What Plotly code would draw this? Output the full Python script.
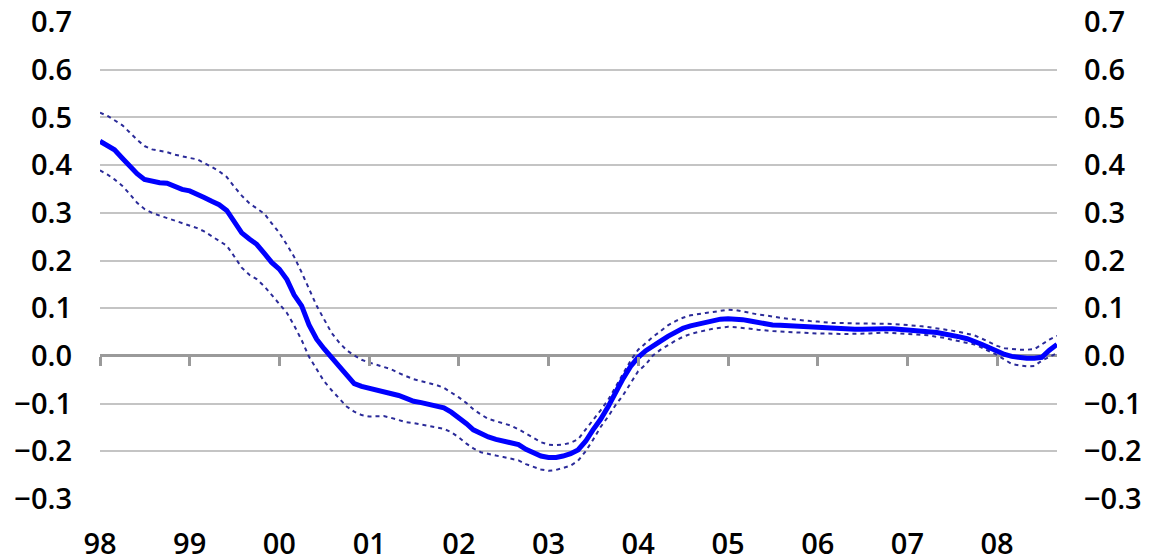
import pandas as pd
import plotly.graph_objects as go

start_month = "1998-01-01"
n_months = 129

center = [0.450, 0.442, 0.432, 0.415, 0.397, 0.382, 0.370, 0.366, 0.363, 0.362, 0.355, 0.349,
          0.346, 0.340, 0.332, 0.324, 0.317, 0.305, 0.280, 0.258, 0.245, 0.234, 0.215, 0.196,
          0.182, 0.160, 0.128, 0.105, 0.065, 0.035, 0.015, -0.005, -0.022, -0.040, -0.058, -0.064,
          -0.068, -0.070, -0.073, -0.078, -0.083, -0.089, -0.095, -0.098, -0.101, -0.104, -0.109, -0.118,
          -0.129, -0.142, -0.155, -0.164, -0.170, -0.175, -0.178, -0.182, -0.186, -0.196, -0.204, -0.210,
          -0.213, -0.213, -0.210, -0.205, -0.197, -0.179, -0.155, -0.133, -0.106, -0.076, -0.047, -0.022,
          -0.003, 0.011, 0.022, 0.031, 0.041, 0.050, 0.058, 0.063, 0.067, 0.071, 0.074, 0.077,
          0.078, 0.078, 0.076, 0.073, 0.070, 0.067, 0.065, 0.064, 0.063, 0.062, 0.061, 0.060,
          0.059, 0.058, 0.057, 0.057, 0.056, 0.056, 0.056, 0.057, 0.057, 0.057, 0.057, 0.056,
          0.055, 0.054, 0.053, 0.051, 0.049, 0.046, 0.044, 0.040, 0.036, 0.031, 0.024, 0.017,
          0.009, 0.003, -0.001, -0.004, -0.005, -0.005, -0.003, 0.012, 0.024]

upper = [0.510, 0.503, 0.494, 0.484, 0.469, 0.453, 0.440, 0.433, 0.430, 0.427, 0.422, 0.418,
         0.415, 0.412, 0.405, 0.396, 0.387, 0.375, 0.355, 0.336, 0.320, 0.310, 0.298, 0.278,
         0.258, 0.233, 0.208, 0.175, 0.142, 0.105, 0.077, 0.048, 0.028, 0.012, 0.001, -0.008,
         -0.014, -0.019, -0.023, -0.028, -0.036, -0.043, -0.049, -0.053, -0.057, -0.061, -0.067, -0.076,
         -0.087, -0.099, -0.112, -0.123, -0.132, -0.137, -0.141, -0.146, -0.154, -0.163, -0.172, -0.181,
         -0.186, -0.187, -0.186, -0.182, -0.175, -0.155, -0.134, -0.114, -0.092, -0.065, -0.038, -0.010,
         0.013, 0.028, 0.040, 0.052, 0.064, 0.073, 0.080, 0.085, 0.088, 0.090, 0.092, 0.095,
         0.097, 0.096, 0.093, 0.090, 0.087, 0.085, 0.082, 0.080, 0.078, 0.076, 0.075, 0.073,
         0.072, 0.070, 0.069, 0.069, 0.068, 0.068, 0.068, 0.068, 0.068, 0.068, 0.067, 0.066,
         0.065, 0.064, 0.062, 0.060, 0.058, 0.056, 0.053, 0.050, 0.047, 0.043, 0.036, 0.028,
         0.021, 0.016, 0.014, 0.013, 0.013, 0.014, 0.024, 0.034, 0.042]

lower = [0.389, 0.380, 0.370, 0.357, 0.340, 0.321, 0.308, 0.300, 0.294, 0.289, 0.283, 0.278,
         0.273, 0.268, 0.261, 0.251, 0.241, 0.231, 0.209, 0.185, 0.170, 0.161, 0.146, 0.128,
         0.110, 0.090, 0.064, 0.033, -0.002, -0.029, -0.053, -0.072, -0.089, -0.106, -0.117, -0.124,
         -0.127, -0.126, -0.126, -0.130, -0.135, -0.139, -0.141, -0.144, -0.147, -0.150, -0.153, -0.160,
         -0.171, -0.184, -0.194, -0.202, -0.206, -0.209, -0.212, -0.215, -0.219, -0.227, -0.232, -0.238,
         -0.241, -0.239, -0.235, -0.230, -0.220, -0.200, -0.176, -0.149, -0.127, -0.103, -0.082, -0.057,
         -0.032, -0.018, 0.001, 0.013, 0.023, 0.032, 0.040, 0.046, 0.050, 0.054, 0.057, 0.059,
         0.061, 0.060, 0.059, 0.057, 0.055, 0.053, 0.052, 0.051, 0.050, 0.050, 0.049, 0.048,
         0.047, 0.047, 0.046, 0.046, 0.046, 0.046, 0.046, 0.047, 0.048, 0.049, 0.048, 0.047,
         0.046, 0.045, 0.044, 0.043, 0.040, 0.038, 0.034, 0.031, 0.028, 0.024, 0.017, 0.010,
         0.002, -0.008, -0.017, -0.020, -0.022, -0.021, -0.010, -0.002, 0.006]

year_ticks = ["1998-01-01", "1999-01-01", "2000-01-01", "2001-01-01", "2002-01-01", "2003-01-01",
              "2004-01-01", "2005-01-01", "2006-01-01", "2007-01-01", "2008-01-01"]
year_labels = ["98", "99", "00", "01", "02", "03", "04", "05", "06", "07", "08"]

y_ticks = [-0.3, -0.2, -0.1, 0.0, 0.1, 0.2, 0.3, 0.4, 0.5, 0.6, 0.7]

dates = pd.date_range(start_month, periods=n_months, freq="MS")
x_range = [dates[0], dates[-1]]

FONT = "Open Sans"
band_color = "#2b2b99"
grid_color = "#c4c4c4"
zero_color = "#9a9a9a"

fig = go.Figure()
fig.add_trace(go.Scatter(x=dates, y=upper, mode="lines",
                         line=dict(color=band_color, width=2, dash="4px,4px"),
                         showlegend=False, hoverinfo="skip"))
fig.add_trace(go.Scatter(x=dates, y=lower, mode="lines",
                         line=dict(color=band_color, width=2, dash="4px,4px"),
                         showlegend=False, hoverinfo="skip"))
fig.add_trace(go.Scatter(x=dates, y=center, mode="lines", xaxis="x2", yaxis="y2",
                         line=dict(color="#0000ff", width=5),
                         showlegend=False))

tickfont = dict(family=FONT, size=29, color="black", weight=600)

# the page shows the figure 8px in from the top-left corner, so margins compensate
fig.update_layout(
    width=1154, height=560,
    margin=dict(l=92, r=105, t=14, b=69),
    paper_bgcolor="white", plot_bgcolor="white",
    xaxis=dict(range=x_range, tickvals=year_ticks, ticktext=year_labels,
               showgrid=False, zeroline=False, showline=False, ticks="",
               tickfont=tickfont, ticklabelstandoff=25, automargin=False,
               ticklabeloverflow="allow"),
    xaxis2=dict(overlaying="x", matches="x", anchor="free", position=0.3,
                tickvals=year_ticks, showticklabels=False, showgrid=False,
                zeroline=False, showline=False, ticks="outside",
                ticklen=9, tickwidth=3, tickcolor=zero_color, automargin=False),
    yaxis=dict(range=[-0.3, 0.7], tickvals=y_ticks, tickformat=".1f",
               showgrid=True, gridcolor=grid_color, gridwidth=1.5,
               zeroline=True, zerolinecolor=zero_color, zerolinewidth=3,
               showline=False, ticks="", tickfont=tickfont, ticklabelstandoff=27,
               automargin=False, ticklabeloverflow="allow"),
    yaxis2=dict(overlaying="y", matches="y", side="right", anchor="x",
                tickvals=y_ticks, tickformat=".1f", showgrid=False, zeroline=False,
                showline=False, ticks="", tickfont=tickfont, ticklabelstandoff=26,
                automargin=False, ticklabeloverflow="allow"),
)

fig.write_html("out.html")
